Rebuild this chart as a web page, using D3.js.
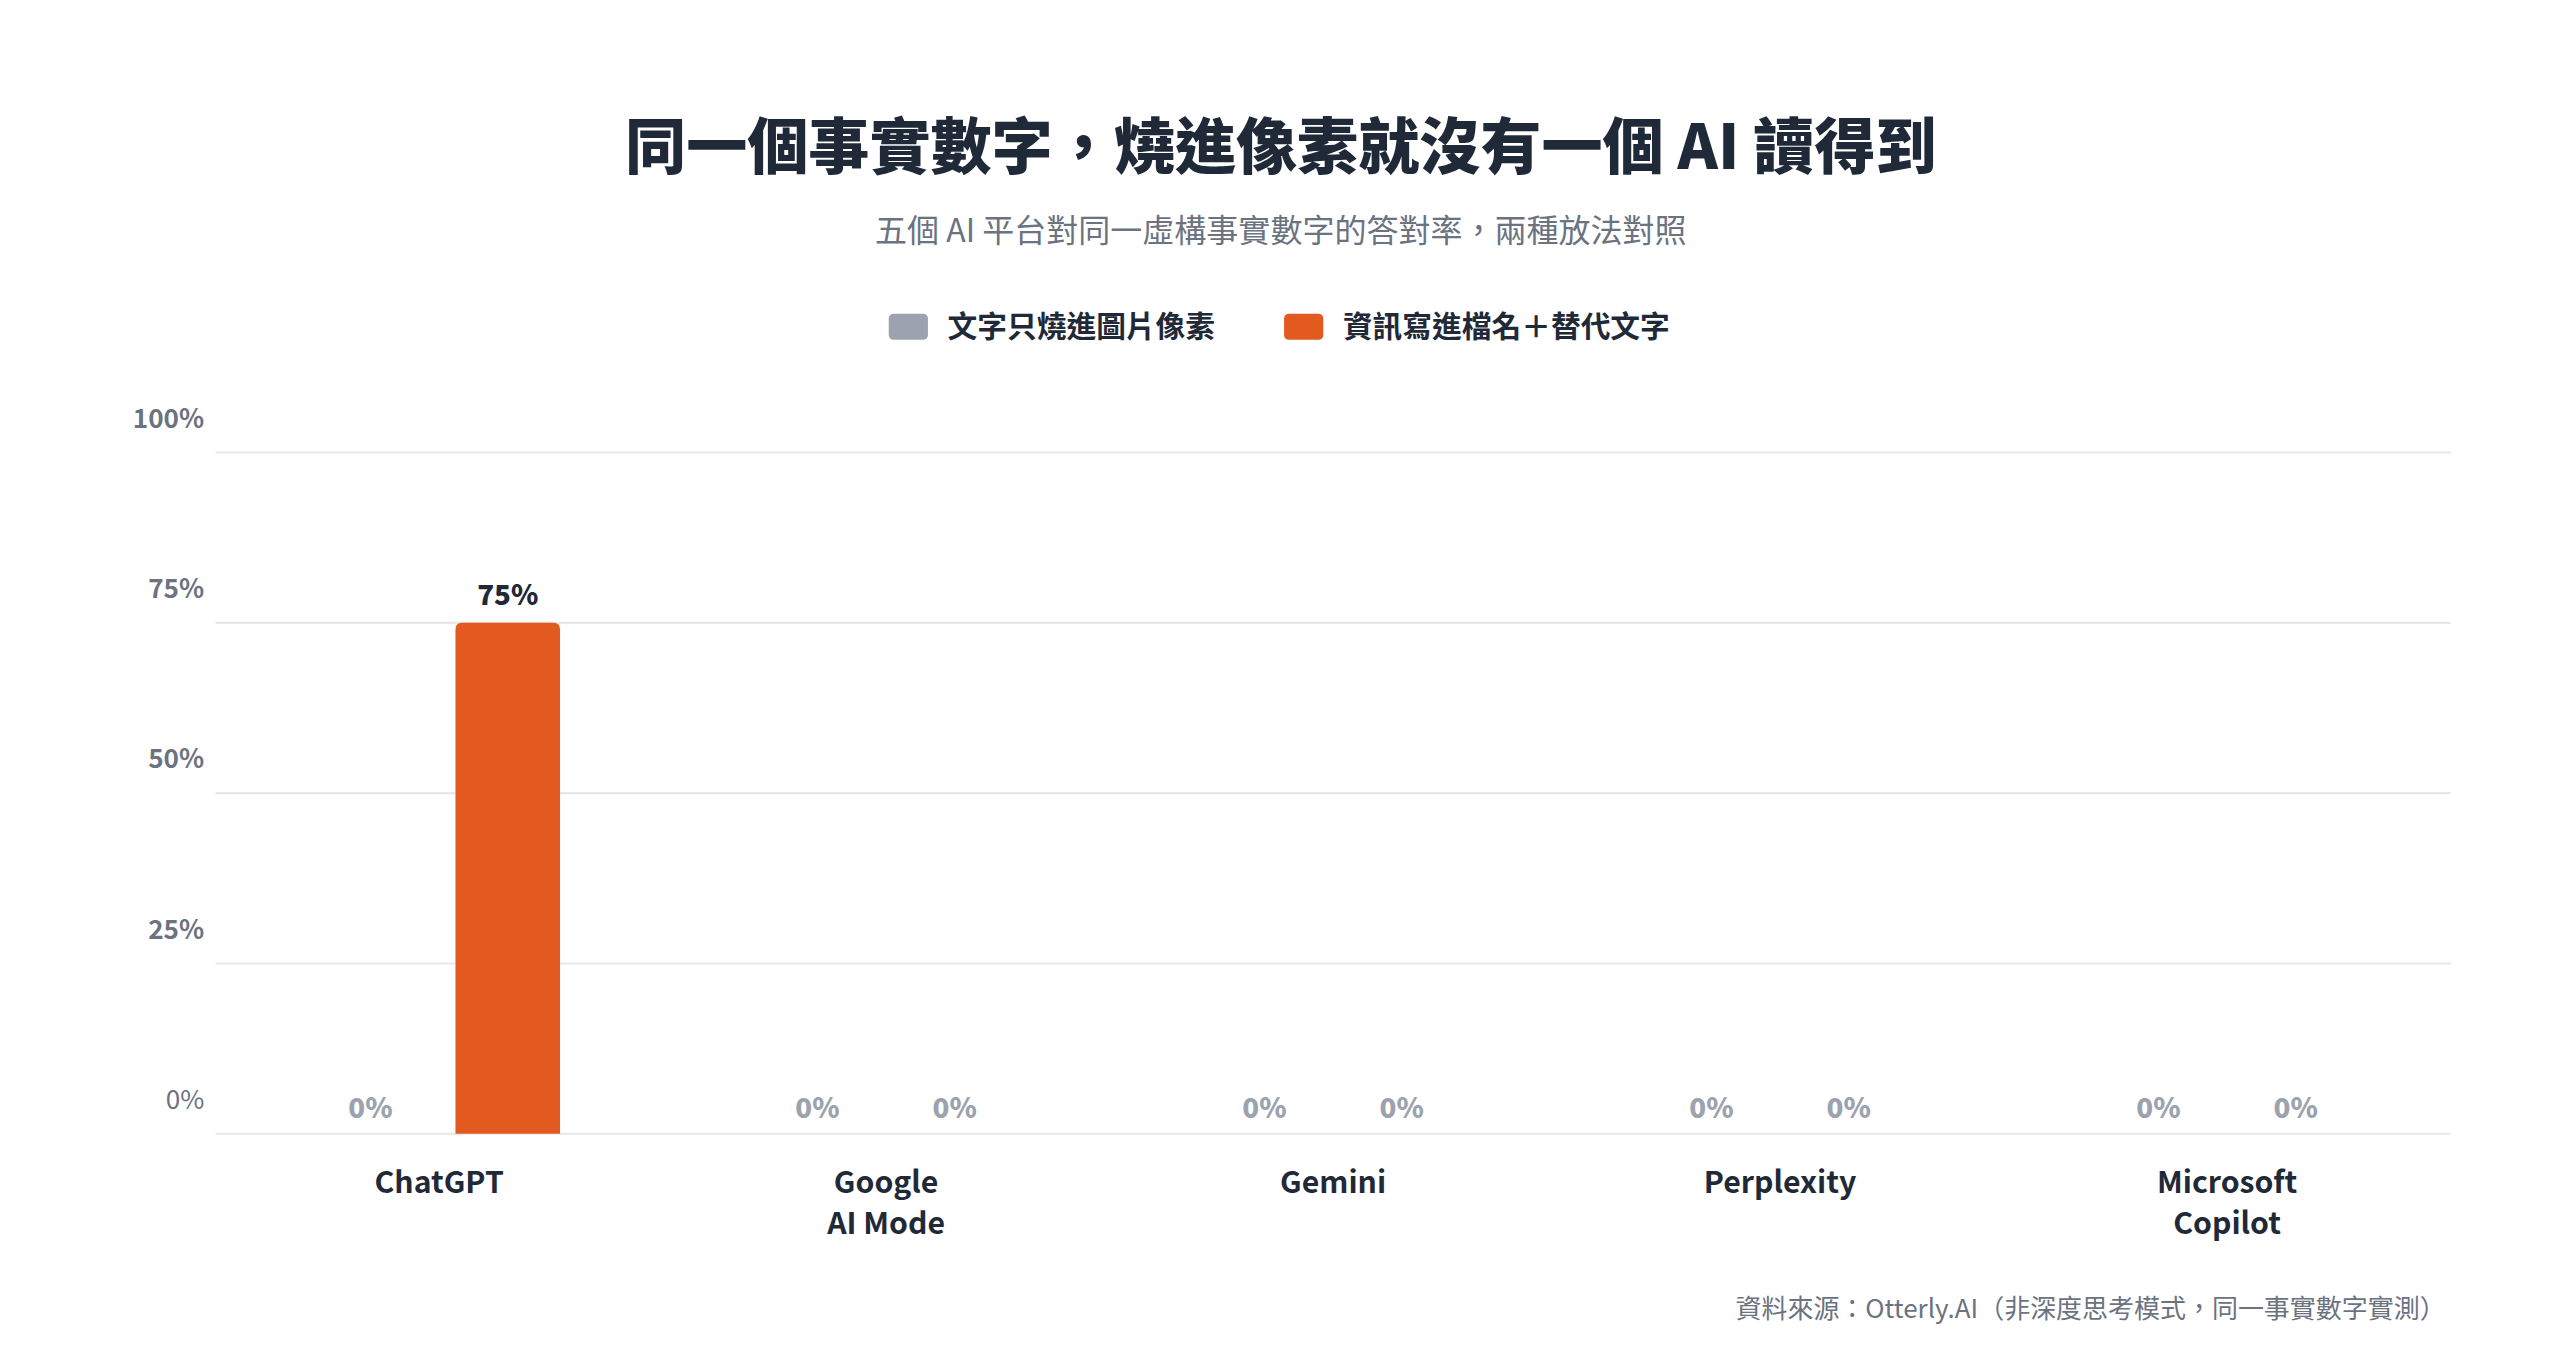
<!DOCTYPE html>
<html>
<head>
<meta charset="utf-8">
<script src="https://cdn.jsdelivr.net/npm/d3@7/dist/d3.min.js"></script>
<style>
  html, body { margin: 0; padding: 0; background: #ffffff; }
  svg { display: block; }
  text { font-family: "Noto Sans CJK TC", "Noto Sans", sans-serif; }
</style>
</head>
<body>
<svg id="chart" width="2560" height="1348" viewBox="0 0 1567 825.1"></svg>
<script>
const titleText = "同一個事實數字，燒進像素就沒有一個 AI 讀得到";
const subtitleText = "五個 AI 平台對同一虛構事實數字的答對率，兩種放法對照";
const sourceText = "資料來源：Otterly.AI（非深度思考模式，同一事實數字實測）";

const categories = [["ChatGPT"], ["Google", "AI Mode"], ["Gemini"], ["Perplexity"], ["Microsoft", "Copilot"]];
const seriesNames = ["文字只燒進圖片像素", "資訊寫進檔名＋替代文字"];
const seriesColors = ["#9ca3af", "#e25a20"];
const pixelOnly = [0, 0, 0, 0, 0];
const filenameAlt = [75, 0, 0, 0, 0];
const yTicks = [0, 25, 50, 75, 100];

(function () {
const svg = d3.select("#chart");
const cx = 784;
const pLeft = 132, pRight = 1500, pTop = 277, pBottom = 694;

const x0 = d3.scaleBand().domain(d3.range(categories.length)).range([pLeft, pRight]).padding(0);
const bw = x0.bandwidth();
const x1 = d3.scaleBand().domain([0, 1]).range([bw / 2 - 74, bw / 2 + 74]).paddingInner(20 / 84).paddingOuter(0);
const y = d3.scaleLinear().domain([0, 100]).range([pBottom, pTop]);

// Title
svg.append("text").attr("x", cx).attr("y", 87)
  .attr("text-anchor", "middle").attr("dominant-baseline", "central")
  .attr("font-size", 37.4).attr("font-weight", 900).attr("fill", "#1f2937")
  .text(titleText);
svg.append("text").attr("x", cx).attr("y", 139.5)
  .attr("text-anchor", "middle").attr("dominant-baseline", "central")
  .attr("font-size", 19.6).attr("font-weight", 400).attr("fill", "#6b7280")
  .text(subtitleText);

// Legend
const legend = svg.append("g");
const legendX = [544, 786];
seriesNames.forEach((name, i) => {
  const g = legend.append("g").attr("transform", `translate(${legendX[i]},200)`);
  g.append("rect").attr("x", 0).attr("y", -8).attr("width", 24).attr("height", 16)
    .attr("rx", 3).attr("fill", seriesColors[i]);
  g.append("text").attr("x", 36).attr("y", -1.5).attr("dominant-baseline", "central")
    .attr("font-size", 18.2).attr("font-weight", 700).attr("fill", "#1f2937").text(name);
});

// Gridlines
svg.append("g").selectAll("line").data(yTicks).join("line")
  .attr("x1", pLeft).attr("x2", pRight)
  .attr("y1", d => y(d)).attr("y2", d => y(d))
  .attr("stroke", "#e5e7eb").attr("stroke-width", 1.3);

// Y labels (placed above gridlines)
svg.append("g").selectAll("text").data(yTicks).join("text")
  .attr("x", 125).attr("y", d => y(d) - 22)
  .attr("text-anchor", "end").attr("dominant-baseline", "central")
  .attr("font-size", 16).attr("font-weight", d => d === 0 ? 400 : 600).attr("fill", "#6b7280")
  .text(d => d + "%");

// Bars
const series = [pixelOnly, filenameAlt];
const r = 4;
function barPath(x, w, yTop, yBot) {
  const h = yBot - yTop;
  if (h <= 0) return "";
  const rr = Math.min(r, h, w / 2);
  return `M${x},${yBot}V${yTop + rr}Q${x},${yTop} ${x + rr},${yTop}H${x + w - rr}Q${x + w},${yTop} ${x + w},${yTop + rr}V${yBot}Z`;
}
const groups = svg.append("g").selectAll("g").data(categories).join("g")
  .attr("transform", (d, i) => `translate(${x0(i)},0)`);

groups.each(function (cat, ci) {
  const g = d3.select(this);
  series.forEach((vals, si) => {
    const v = vals[ci];
    const bx = x1(si);
    g.append("path").attr("d", barPath(bx, x1.bandwidth(), y(v), y(0))).attr("fill", seriesColors[si]);
    g.append("text").attr("x", bx + x1.bandwidth() / 2)
      .attr("y", v > 0 ? y(v) - 18 : y(0) - 17)
      .attr("text-anchor", "middle").attr("dominant-baseline", "central")
      .attr("font-size", 17).attr("font-weight", 800)
      .attr("fill", v > 0 ? "#1f2937" : "#9ca3af")
      .text(v + "%");
  });
  const t = g.append("text").attr("x", bw / 2).attr("text-anchor", "middle")
    .attr("font-size", 18.5).attr("font-weight", 700).attr("fill", "#1f2937");
  cat.forEach((line, li) => {
    t.append("tspan").attr("x", bw / 2).attr("y", 722.5 + li * 25)
      .attr("dominant-baseline", "central").text(line);
  });
});

// Source
svg.append("text").attr("x", 1497).attr("y", 800)
  .attr("text-anchor", "end").attr("dominant-baseline", "central")
  .attr("font-size", 15.9).attr("font-weight", 400).attr("fill", "#6b7280")
  .text(sourceText);
})();
</script>
</body>
</html>
